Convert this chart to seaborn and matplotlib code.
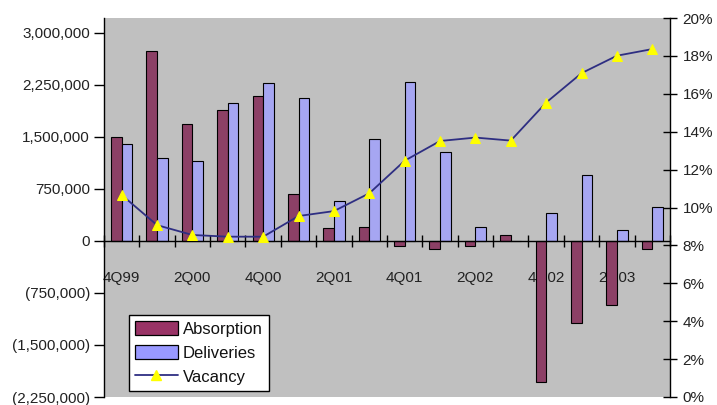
import numpy as np
import pandas as pd
import matplotlib
matplotlib.use("Agg")
import matplotlib.pyplot as plt
import seaborn as sns
from matplotlib.ticker import FuncFormatter
from matplotlib.patches import Patch
from matplotlib.lines import Line2D

# Quarterly office market data
quarters = ["4Q99", "1Q00", "2Q00", "3Q00", "4Q00", "1Q01", "2Q01", "3Q01",
            "4Q01", "1Q02", "2Q02", "3Q02", "4Q02", "1Q03", "2Q03", "3Q03"]
absorption = [1500000, 2740000, 1690000, 1890000, 2090000, 670000, 180000, 200000,
              -80000, -120000, -70000, 90000, -2030000, -1190000, -920000, -120000]
deliveries = [1400000, 1190000, 1150000, 1990000, 2270000, 2060000, 580000, 1460000,
              2290000, 1280000, 200000, 0, 400000, 950000, 150000, 490000]
vacancy = [0.1066, 0.0907, 0.0855, 0.0846, 0.0846, 0.0955, 0.0981, 0.1075,
           0.1247, 0.1351, 0.1369, 0.1353, 0.1554, 0.1709, 0.1801, 0.1836]
label_quarters = ["4Q99", "2Q00", "4Q00", "2Q01", "4Q01", "2Q02", "4Q02", "2Q03"]
sqft_ticks = [-2250000, -1500000, -750000, 0, 750000, 1500000, 2250000, 3000000]
pct_ticks = [0.00, 0.02, 0.04, 0.06, 0.08, 0.10, 0.12, 0.14, 0.16, 0.18, 0.20]

ABS_COLOR = "#993366"
DEL_COLOR = "#9999FF"
LINE_COLOR = "#2E2E82"
MARK_COLOR = "#FFFF00"

sns.set_theme(style="white")
plt.rcParams["font.family"] = ["Liberation Sans", "DejaVu Sans"]

n = len(quarters)
fig = plt.figure(figsize=(7.17, 4.05), dpi=100)
ax = fig.add_axes([104 / 717, 8 / 405, 566 / 717, 379 / 405])
ax.set_facecolor("#C0C0C0")

df = pd.DataFrame({
    "quarter": quarters * 2,
    "series": ["Absorption"] * n + ["Deliveries"] * n,
    "value": absorption + deliveries,
})
sns.barplot(data=df, x="quarter", y="value", hue="series", order=quarters,
            palette={"Absorption": ABS_COLOR, "Deliveries": DEL_COLOR},
            width=0.6, edgecolor="black", linewidth=0.8, errorbar=None,
            legend=False, ax=ax)

ax.set_xlim(-0.5, n - 0.5)
ax.set_ylim(-2250000, 3210000)
ax.set_xlabel("")
ax.set_ylabel("")

for side in ("top", "right"):
    ax.spines[side].set_visible(False)
ax.spines["left"].set_color("black")
ax.spines["left"].set_linewidth(1.0)
ax.spines["bottom"].set_position(("data", 0))
ax.spines["bottom"].set_color("black")
ax.spines["bottom"].set_linewidth(1.0)

# category boundaries as tick marks, labels on every other quarter
ax.set_xticks(np.arange(n + 1) - 0.5)
ax.set_xticklabels([""] * (n + 1))
ax.set_xticks(np.arange(0, n, 2), minor=True)
ax.set_xticklabels(label_quarters, minor=True)
ax.tick_params(axis="x", which="major", direction="inout", length=9, width=1,
               color="black", bottom=True)
ax.tick_params(axis="x", which="minor", length=0, pad=22, labelsize=11,
               labelcolor="#222222", bottom=True)

ax.set_yticks(sqft_ticks)
ax.yaxis.set_major_formatter(FuncFormatter(
    lambda v, p: f"({abs(v):,.0f})" if v < 0 else f"{v:,.0f}"))
ax.tick_params(axis="y", direction="out", length=7, width=1, color="black",
               labelsize=11, labelcolor="#222222", pad=3, left=True)

# vacancy rate on the secondary axis
ax2 = ax.twinx()
ax2.set_facecolor("none")
sns.lineplot(x=quarters, y=vacancy, ax=ax2, sort=False, color=LINE_COLOR,
             linewidth=1.3, marker="^", markersize=7,
             markerfacecolor=MARK_COLOR, markeredgecolor=MARK_COLOR)
ax2.set_xlim(-0.5, n - 0.5)
ax2.set_ylim(0, 0.20)
ax2.set_yticks(pct_ticks)
ax2.yaxis.set_major_formatter(FuncFormatter(lambda v, p: f"{v * 100:.0f}%"))
ax2.tick_params(axis="y", direction="inout", length=10, width=1, color="black",
                labelsize=11, labelcolor="#222222", pad=4, right=True)
for side in ("top", "left", "bottom"):
    ax2.spines[side].set_visible(False)
ax2.spines["right"].set_color("black")
ax2.spines["right"].set_linewidth(1.0)
ax2.set_ylabel("")
ax2.grid(False)

handles = [
    Patch(facecolor=ABS_COLOR, edgecolor="black", linewidth=0.9),
    Patch(facecolor=DEL_COLOR, edgecolor="black", linewidth=0.9),
    Line2D([], [], color=LINE_COLOR, linewidth=1.3, marker="^", markersize=7,
           markerfacecolor=MARK_COLOR, markeredgecolor=MARK_COLOR),
]
leg = ax2.legend(handles, ["Absorption", "Deliveries", "Vacancy"],
                 loc="lower left", bbox_to_anchor=(0.044, 0.017),
                 borderaxespad=0, frameon=True, fancybox=False,
                 edgecolor="black", framealpha=1, fontsize=12,
                 handlelength=2.6, handleheight=0.9, handletextpad=0.3,
                 labelspacing=0.5, borderpad=0.35)
leg.get_frame().set_linewidth(1.0)
for t in leg.get_texts():
    t.set_color("#111111")

fig.savefig("out.png", dpi=100, facecolor="white")
